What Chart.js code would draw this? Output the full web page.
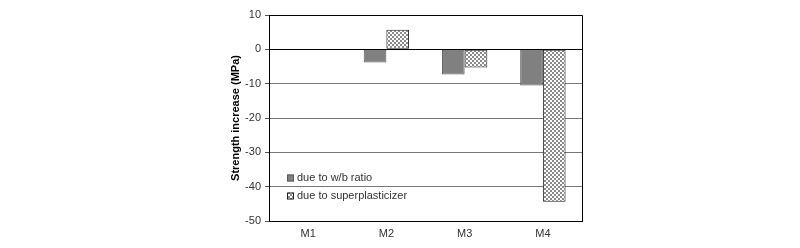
<!DOCTYPE html>
<html>
<head>
<meta charset="utf-8">
<script src="https://cdn.jsdelivr.net/npm/chart.js@4.4.0/dist/chart.umd.min.js"></script>
<style>
  html, body { margin: 0; padding: 0; background: #fff; }
  #wrap { width: 800px; height: 248px; }
</style>
</head>
<body>
<div id="wrap"><canvas id="chart" width="800" height="248"></canvas></div>
<script>
// data
const categories = ['M1', 'M2', 'M3', 'M4'];
const wbRatio = [0, -3.8, -7.3, -10.5];
const superplasticizer = [0, 5.7, -5.3, -44.4];
const seriesLabels = ['due to w/b ratio', 'due to superplasticizer'];
const yTicks = [10, 0, -10, -20, -30, -40, -50];

const FONT = 'Liberation Sans, Arial, sans-serif';

// 2px checker pattern for the superplasticizer bars
function makeChecker() {
    const c = document.createElement('canvas');
    c.width = 4; c.height = 4;
    const g = c.getContext('2d');
    g.fillStyle = '#ffffff';
    g.fillRect(0, 0, 4, 4);
    g.fillStyle = '#8a8a8a';
    g.fillRect(0, 0, 2, 2);
    g.fillRect(2, 2, 2, 2);
    return g.createPattern(c, 'repeat');
}
const checker = makeChecker();

// frame on top and right of the plot area
const framePlugin = {
    id: 'frame',
    afterDraw(chart) {
        const a = chart.chartArea;
        const ctx = chart.ctx;
        ctx.save();
        ctx.strokeStyle = '#000';
        ctx.lineWidth = 1;
        ctx.beginPath();
        ctx.moveTo(a.left, a.top + 0.5);
        ctx.lineTo(a.right + 0.5, a.top + 0.5);
        ctx.lineTo(a.right + 0.5, a.bottom);
        ctx.stroke();
        ctx.restore();
    }
};

// legend placed inside the plot, lower left
const insideLegend = {
    id: 'insideLegend',
    afterDraw(chart) {
        const ctx = chart.ctx;
        const a = chart.chartArea;
        const x = a.left + 18;
        let y = a.top + 163;
        ctx.save();
        ctx.font = '11px ' + FONT;
        ctx.textBaseline = 'middle';
        chart.data.datasets.forEach(ds => {
            ctx.fillStyle = ds.backgroundColor;
            ctx.fillRect(x, y - 3.5, 7, 7);
            ctx.strokeStyle = ds.borderColor;
            ctx.lineWidth = 1;
            ctx.strokeRect(x + 0.5, y - 3, 6, 6);
            ctx.fillStyle = '#333';
            ctx.fillText(ds.label, x + 10, y);
            y += 18;
        });
        ctx.restore();
    }
};

const config = {
    type: 'bar',
    data: {
        labels: categories,
        datasets: [
            {
                label: seriesLabels[0],
                data: wbRatio,
                backgroundColor: '#808080',
                borderColor: '#5a5a5a',
                borderWidth: 1,
                borderSkipped: false,
                categoryPercentage: 0.58,
                barPercentage: 1.0
            },
            {
                label: seriesLabels[1],
                data: superplasticizer,
                backgroundColor: checker,
                borderColor: '#222',
                borderWidth: 1,
                borderSkipped: false,
                categoryPercentage: 0.58,
                barPercentage: 1.0
            }
        ]
    },
    plugins: [framePlugin, insideLegend],
    options: {
        responsive: false,
        animation: false,
        layout: { padding: { top: 15, right: 218, left: 229, bottom: 0 } },
        plugins: {
            legend: { display: false },
            tooltip: { enabled: false }
        },
        scales: {
            x: {
                grid: { display: false, drawTicks: false },
                border: { color: '#000', width: 1 },
                ticks: {
                    color: '#333',
                    font: { family: FONT, size: 11 },
                    padding: 6
                },
                afterFit(scale) { scale.height = 27; }
            },
            y: {
                min: -50,
                max: 10,
                afterBuildTicks(scale) {
                    scale.ticks = yTicks.map(v => ({ value: v }));
                },
                grid: {
                    color: ctx => (ctx.tick && ctx.tick.value === 0) ? '#000' : '#777',
                    lineWidth: 1,
                    tickLength: 4,
                    tickColor: '#555'
                },
                border: { color: '#000', width: 1 },
                ticks: {
                    color: '#333',
                    font: { family: FONT, size: 11 },
                    padding: 4
                },
                title: {
                    display: true,
                    text: 'Strength increase (MPa)',
                    color: '#000',
                    font: { family: FONT, size: 11, weight: 'bold' },
                    padding: { top: 0, bottom: 0 }
                },
                afterFit(scale) { scale.width = 40; }
            }
        }
    }
};

new Chart(document.getElementById('chart'), config);
</script>
</body>
</html>
